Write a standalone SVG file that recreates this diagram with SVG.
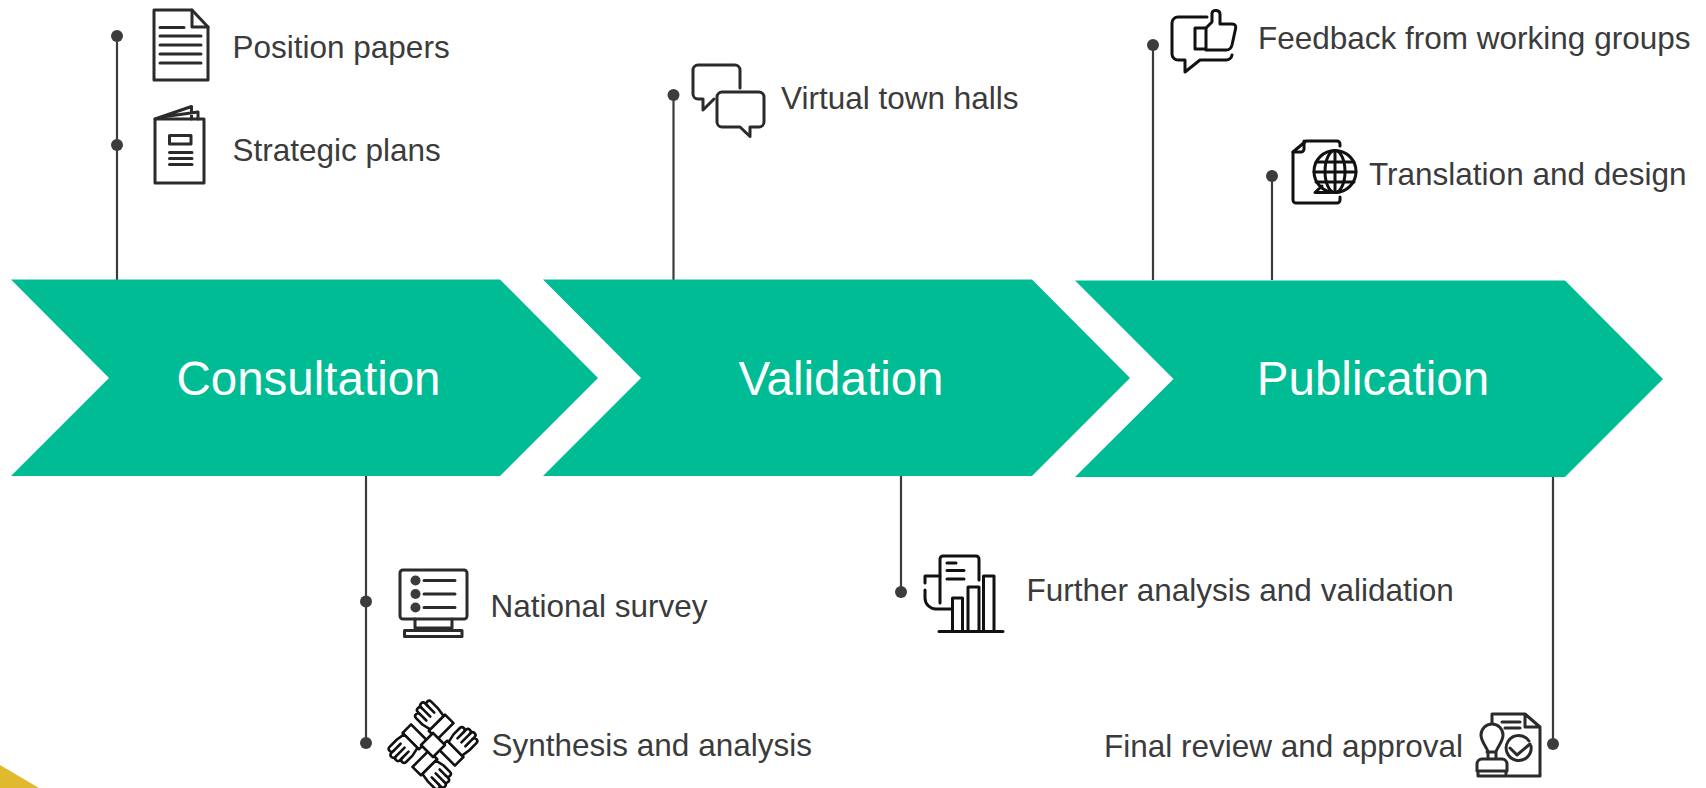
<svg xmlns="http://www.w3.org/2000/svg" xmlns:xlink="http://www.w3.org/1999/xlink" width="1706" height="788" viewBox="0 0 1706 788">
<style>
text{font-family:"Liberation Sans",Arial,sans-serif}
.l{font-size:31.5px;fill:#3b3b3b}
.t{font-size:47.5px;fill:#fff;text-anchor:middle}
.c{fill:#00bc94}
.w{stroke:#3c3c3c;stroke-width:2.2;fill:none}
.d{fill:#3c3c3c}
.i{fill:none;stroke:#2b2b2b;stroke-width:3;stroke-linejoin:round;stroke-linecap:round}
.k{fill:none;stroke:#111;stroke-width:3;stroke-linejoin:round;stroke-linecap:round}
.h{fill:#fff;stroke:#111;stroke-width:2.6;stroke-linejoin:round;stroke-linecap:round}
</style>
<defs>
<g id="hand">
<path class="h" d="M7 -1L30 -1L30 -13L7 -13Z"/>
<path class="h" d="M9 -13L7 -22V-31a2.800 2.800 0 0 1 5.600 0V-34a2.800 2.800 0 0 1 5.600 0V-35a2.800 2.800 0 0 1 5.600 0V-32a2.800 2.800 0 0 1 5.600 0V-22L28 -13Z"/>
<path class="h" d="M12.600 -31V-22M18.200 -34V-22M23.800 -32V-22"/>
</g>
</defs>
<path id="corner" d="M0 765L39 788H0Z" fill="#e0b92f"/>
<g id="connectors">
<path class="w" d="M117 36V280M673.500 95V280M1153 45V280M1272 176V280M366 476V743M901 476V592M1553 476V744"/>
<circle class="d" cx="117" cy="36" r="6"/><circle class="d" cx="117" cy="145" r="6"/>
<circle class="d" cx="673.500" cy="95" r="6"/><circle class="d" cx="1153" cy="45" r="6"/>
<circle class="d" cx="1272" cy="176" r="6"/><circle class="d" cx="366" cy="601.500" r="6"/>
<circle class="d" cx="366" cy="743" r="6"/><circle class="d" cx="901" cy="592" r="6"/>
<circle class="d" cx="1553" cy="744" r="6"/>
</g>
<g id="consultation"><path class="c" d="M11 279.500H500L598 378L500 476H11L109 378Z"/><text class="t" x="308.500" y="395">Consultation</text></g>
<g id="validation"><path class="c" d="M543 279.500H1032L1130 378L1032 476H543L641 378Z"/><text class="t" x="841" y="395">Validation</text></g>
<g id="publication"><path class="c" d="M1075 280.500H1565L1663 379L1565 477H1075L1173.500 379Z"/><text class="t" x="1373" y="395">Publication</text></g>
<g id="position-papers"><g class="i"><path d="M154 10H192L208 27V80H154Z"/><path d="M192 10V27H208M160 27.500H184M160 36H201M160 45H201M160 54H201M160 63H201"/></g><text class="l" x="232.500" y="57.500">Position papers</text></g>
<g id="strategic-plans"><g class="i"><path d="M155 119H204V183H155Z"/><path d="M155 119L191.500 106.500V119M162 117L198 112V119"/><path d="M169.500 135.500H191V144H169.500ZM169.500 152.500H192M169.500 158.500H192M169.500 164.500H192"/></g><text class="l" x="232.500" y="160.500">Strategic plans</text></g>
<g id="virtual-town-halls"><g class="i"><path d="M740 88V70a5 5 0 0 0-5-5H698a5 5 0 0 0-5 5V94a5 5 0 0 0 5 5H703V110L714 99"/><path d="M722 92H759a5 5 0 0 1 5 5V122a5 5 0 0 1-5 5H750V136.500L740 127H722a5 5 0 0 1-5-5V97a5 5 0 0 1 5-5Z"/></g><text class="l" x="781" y="109">Virtual town halls</text></g>
<g id="feedback"><g class="k"><path d="M1207 17H1178a6 6 0 0 0-6 6V54a6 6 0 0 0 6 6H1185V72L1200 60H1226a6 6 0 0 0 6-5"/><path d="M1195 28H1206V49H1195Z"/><path d="M1206 28L1212 22V13C1213 9 1220 10 1220 14V24H1232C1236 24 1236 27 1235.500 29L1232 45C1231 49 1229 50 1226 50H1206"/></g><text class="l" x="1258" y="49">Feedback from working groups</text></g>
<g id="translation"><g class="k"><path d="M1340 146V144a3 3 0 0 0-3-3H1306L1293 152V200a3 3 0 0 0 3 3H1337a3 3 0 0 0 3-3V197"/><path d="M1293 152H1301a3 3 0 0 0 3-3V141"/><circle cx="1335" cy="171.500" r="21" fill="#fff"/><ellipse cx="1335" cy="171.500" rx="10" ry="21"/><path d="M1335 150.500V192.500M1316 162H1354M1314 172H1356M1316 182H1354M1322 186L1315 192.500H1330"/></g><text class="l" x="1369" y="185">Translation and design</text></g>
<g id="national-survey"><g class="i"><path d="M403 570H464a3 3 0 0 1 3 3V616a3 3 0 0 1-3 3H403a3 3 0 0 1-3-3V573a3 3 0 0 1 3-3Z"/><path d="M415 619V628H452V619M404.500 630.500H462V636.500H404.500Z"/><path d="M424 580.500H455M424 594H455M424 607.500H455"/></g><circle class="d" cx="415.500" cy="580.500" r="5"/><circle class="d" cx="415.500" cy="594" r="5"/><circle class="d" cx="415.500" cy="607.500" r="5"/><text class="l" x="490.500" y="617">National survey</text></g>
<g id="synthesis"><g transform="translate(433 745)"><use xlink:href="#hand" href="#hand" transform="rotate(-45)"/><use xlink:href="#hand" href="#hand" transform="rotate(45)"/><use xlink:href="#hand" href="#hand" transform="rotate(135)"/><use xlink:href="#hand" href="#hand" transform="rotate(225)"/><path class="h" d="M0 -12L12 0L0 12L-12 0Z"/></g><text class="l" x="491.500" y="756">Synthesis and analysis</text></g>
<g id="further-analysis"><g class="k"><path d="M979 580V559a3 3 0 0 0-3-3H943a3 3 0 0 0-3 3V603"/><path d="M947 563H956M947 570.500H964M947 579H964"/><path d="M940 576H925V583M925 590V598C925 604 930 609 936 609H951"/><path d="M952.500 631V598H962.500V631M968 631V587H979V631M983.500 631V576H994V631M939 631.500H1003"/></g><text class="l" x="1026.500" y="601">Further analysis and validation</text></g>
<g id="final-review"><g class="i"><path d="M1492 723V714H1525L1540 727V776H1508M1525 714V727H1540M1502 722H1520M1505 728H1520"/><path d="M1530 744L1517 755L1510 748"/><path d="M1529 741A12.500 12.500 0 1 0 1531 746"/><path d="M1488 757V752C1487 747 1481 742 1481 735A11 11 0 0 1 1503 735C1503 742 1497 747 1496 752V757M1487 752H1496"/><path d="M1477 771V764a5 5 0 0 1 5-5H1502a5 5 0 0 1 5 5V771ZM1478 771V776H1506V771"/></g><text class="l" x="1104" y="757">Final review and approval</text></g>
</svg>
